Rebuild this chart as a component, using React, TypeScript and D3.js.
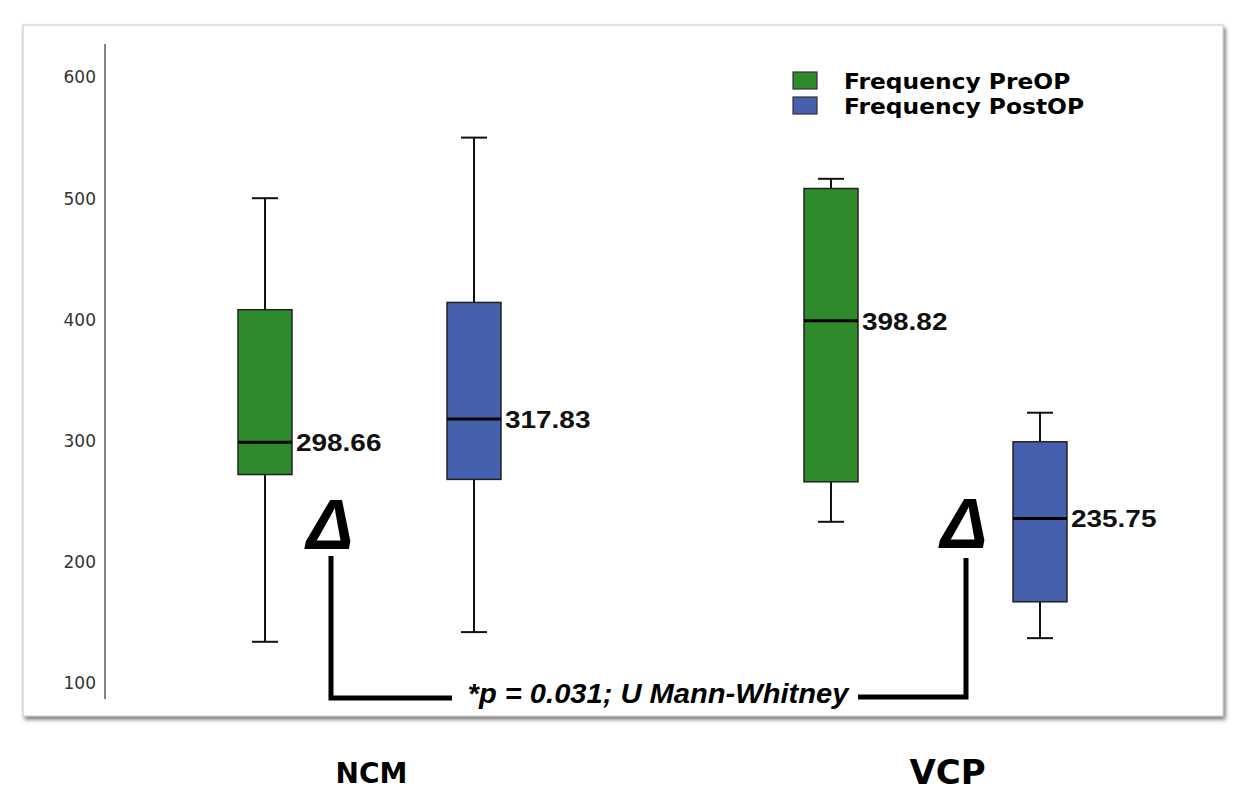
import React from "react";
import * as d3 from "d3";

const categories = ["NCM", "VCP"];
const series = ["Frequency PreOP", "Frequency PostOP"];
const seriesColors = ["#2f8a2c", "#4560ad"];

// five-number summaries, one entry per category (NCM, VCP)
const preOPMin = [134, 233];
const preOPQ1 = [272, 266];
const preOPMedian = [298.66, 398.82];
const preOPQ3 = [408, 508];
const preOPMax = [500, 516];

const postOPMin = [142, 137];
const postOPQ1 = [268, 167];
const postOPMedian = [317.83, 235.75];
const postOPQ3 = [414, 299];
const postOPMax = [550, 323];

const yTicks = [100, 200, 300, 400, 500, 600];
const pValueText = "*p = 0.031; U Mann-Whitney";
const deltaSymbol = "Δ";

const W = 1238;
const H = 792;

function buildBoxes() {
  const out: any[] = [];
  categories.forEach((c, ci) => {
    out.push({ cat: c, s: series[0], color: seriesColors[0], min: preOPMin[ci], q1: preOPQ1[ci], med: preOPMedian[ci], q3: preOPQ3[ci], max: preOPMax[ci] });
    out.push({ cat: c, s: series[1], color: seriesColors[1], min: postOPMin[ci], q1: postOPQ1[ci], med: postOPMedian[ci], q3: postOPQ3[ci], max: postOPMax[ci] });
  });
  return out;
}

export default function App() {
  const y = d3.scaleLinear().domain([100, 600]).range([683, 77]);
  const x0 = d3.scaleBand<string>().domain(categories).range([86.5, 1218.5]);
  const x1 = d3.scaleBand<string>().domain(series).range([74, 492]);
  const boxW = 54;
  const capW = 26;
  const boxes = buildBoxes();
  const fmt = d3.format(".2f");

  const cx = (cat: string, s: string) => (x0(cat) as number) + (x1(s) as number) + x1.bandwidth() / 2;
  const groupCenter = (cat: string) => (x0(cat) as number) + x0.bandwidth() / 2;

  const catLabelStyle = [
    { dx: 2, baseline: 783, size: 28 },
    { dx: 12, baseline: 784, size: 34 },
  ];

  return (
    <svg width={W} height={H} style={{ position: "absolute", left: 0, top: 0, background: "#fff" }}>
      <defs>
        <filter id="shadow" x="-5%" y="-5%" width="110%" height="115%">
          <feDropShadow dx="2" dy="3" stdDeviation="2" floodColor="#000" floodOpacity="0.55" />
        </filter>
      </defs>
      <rect x={0} y={0} width={W} height={H} fill="#fff" />
      <rect x={23} y={25} width={1200} height={691} fill="#fff" stroke="#c4c4c4" strokeWidth={1} filter="url(#shadow)" />

      {/* y axis */}
      <line x1={105} x2={105} y1={44} y2={699} stroke="#666" strokeWidth={1.6} />
      {yTicks.map((t) => (
        <text key={t} x={96} y={y(t) + 6.3} textAnchor="end" fontFamily="DejaVu Sans" fontSize={17} fill="#333">
          {t}
        </text>
      ))}

      {/* boxes */}
      {boxes.map((b, i) => {
        const c = cx(b.cat, b.s);
        return (
          <g key={i}>
            <line x1={c} x2={c} y1={y(b.max)} y2={y(b.q3)} stroke="#111" strokeWidth={2} />
            <line x1={c} x2={c} y1={y(b.q1)} y2={y(b.min)} stroke="#111" strokeWidth={2} />
            <line x1={c - capW / 2} x2={c + capW / 2} y1={y(b.max)} y2={y(b.max)} stroke="#111" strokeWidth={2} />
            <line x1={c - capW / 2} x2={c + capW / 2} y1={y(b.min)} y2={y(b.min)} stroke="#111" strokeWidth={2} />
            <rect x={c - boxW / 2} y={y(b.q3)} width={boxW} height={y(b.q1) - y(b.q3)} fill={b.color} stroke="#222" strokeWidth={1.5} />
            <line x1={c - boxW / 2} x2={c + boxW / 2} y1={y(b.med)} y2={y(b.med)} stroke="#000" strokeWidth={3} />
            <text
              transform={`translate(${c + boxW / 2 + 4},${y(b.med) + 8.8}) scale(1.14,1)`}
              fontFamily="Liberation Sans, Arial, sans-serif"
              fontWeight="bold"
              fontSize={24.5}
              fill="#111"
            >
              {fmt(b.med)}
            </text>
          </g>
        );
      })}

      {/* legend */}
      {series.map((s, i) => (
        <g key={s}>
          <rect x={793} y={72 + i * 25} width={24} height={17} fill={seriesColors[i]} stroke="#333" strokeWidth={1.2} />
          <text
            transform={`translate(844,${88.5 + i * 25}) scale(1.14,1)`}
            fontFamily="DejaVu Sans"
            fontWeight="bold"
            fontSize={20.5}
            fill="#000"
          >
            {s}
          </text>
        </g>
      ))}

      {/* delta annotations and bracket */}
      <text x={330} y={549} textAnchor="middle" fontFamily="Liberation Sans, Arial, sans-serif" fontWeight="bold" fontStyle="italic" fontSize={70} fill="#000">
        {deltaSymbol}
      </text>
      <text x={964} y={548} textAnchor="middle" fontFamily="Liberation Sans, Arial, sans-serif" fontWeight="bold" fontStyle="italic" fontSize={70} fill="#000">
        {deltaSymbol}
      </text>
      <path d="M331,556 V698 H452" fill="none" stroke="#000" strokeWidth={5} />
      <path d="M858,697 H966 V558" fill="none" stroke="#000" strokeWidth={5} />
      <text
        transform="translate(658,703) scale(1.04,1)"
        textAnchor="middle"
        fontFamily="Liberation Sans, Arial, sans-serif"
        fontWeight="bold"
        fontStyle="italic"
        fontSize={28}
        fill="#000"
      >
        {pValueText}
      </text>

      {/* category labels */}
      {categories.map((c, i) => (
        <text
          key={c}
          x={groupCenter(c) + catLabelStyle[i].dx}
          y={catLabelStyle[i].baseline}
          textAnchor="middle"
          fontFamily="DejaVu Sans"
          fontWeight="bold"
          fontSize={catLabelStyle[i].size}
          fill="#000"
        >
          {c}
        </text>
      ))}
    </svg>
  );
}
